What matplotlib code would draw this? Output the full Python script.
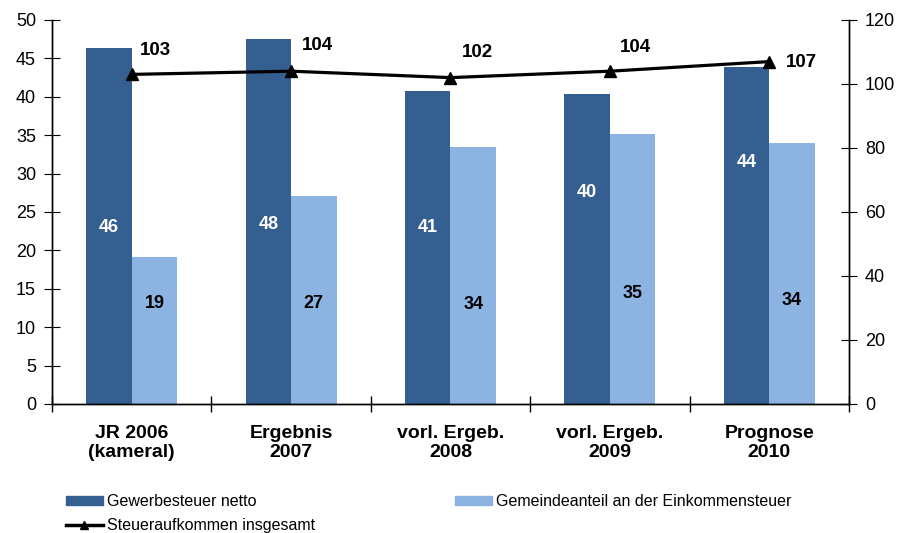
import numpy as np
import matplotlib.pyplot as plt
from matplotlib.lines import Line2D
from matplotlib.patches import Patch

plt.rcParams['font.family'] = ['Liberation Sans', 'DejaVu Sans']

kategorien = ['JR 2006\n(kameral)', 'Ergebnis\n2007', 'vorl. Ergeb.\n2008',
              'vorl. Ergeb.\n2009', 'Prognose\n2010']
gewerbe = [46.4, 47.5, 40.7, 40.3, 43.9]
gewerbe_lbl = ['46', '48', '41', '40', '44']
gemeinde = [19.2, 27.1, 33.5, 35.2, 34.0]
gemeinde_lbl = ['19', '27', '34', '35', '34']
gesamt = [103, 104, 102, 104, 107]

# where the labels sit inside the bars (left-axis units) and next to the line
pos_gewerbe = [23.0, 23.4, 23.0, 27.5, 31.4]
pos_gemeinde = [13.1, 13.1, 13.0, 14.4, 13.5]
versatz = [(24, 24), (26, 26), (27, 25), (26, 24), (32, -1)]

c_dunkel = '#365F91'
c_hell = '#8DB3E2'

fig = plt.figure(figsize=(9.03, 5.33), dpi=100)
ax = fig.add_axes([52/903, 1-404/533, (849-52)/903, (404-20)/533])
ax2 = ax.twinx()

x = np.arange(len(kategorien))
w = 0.285
ax.bar(x - w/2, gewerbe, w, color=c_dunkel, zorder=2)
ax.bar(x + w/2, gemeinde, w, color=c_hell, zorder=2)

for i in range(len(x)):
    ax.text(x[i] - w/2, pos_gewerbe[i], gewerbe_lbl[i], ha='center', va='center',
            color='white', fontsize=13, fontweight='bold')
    ax.text(x[i] + w/2, pos_gemeinde[i], gemeinde_lbl[i], ha='center', va='center',
            color='black', fontsize=13, fontweight='bold')

ax2.plot(x, gesamt, color='black', lw=2.3, marker='^', ms=8, zorder=3)
for i in range(len(x)):
    dx, dy = versatz[i]
    ax2.annotate(str(gesamt[i]), (x[i], gesamt[i]), xytext=(dx*0.72, dy*0.72),
                 textcoords='offset points', ha='center', va='center',
                 fontsize=13.5, fontweight='bold')

ax.set_xlim(-0.5, 4.5)
ax.set_ylim(0, 50)
ax.set_yticks(np.arange(0, 51, 5))
ax2.set_ylim(0, 120)
ax2.set_yticks(np.arange(0, 121, 20))

ax.set_xticks(np.arange(-0.5, 5, 1))
ax.set_xticklabels([])
ax.set_xticks(x, minor=True)
ax.set_xticklabels(kategorien, minor=True, fontsize=14, fontweight='bold')
ax.tick_params(axis='x', which='minor', length=0, pad=15)
ax.tick_params(axis='x', which='major', direction='inout', length=11, width=1)
ax.tick_params(axis='y', direction='inout', length=11, labelsize=13, pad=6)
ax2.tick_params(axis='y', direction='inout', length=11, labelsize=13, pad=6)

for a in (ax, ax2):
    a.spines['top'].set_visible(False)
    for s in ('left', 'right', 'bottom'):
        a.spines[s].set_linewidth(1)

leg_opts = dict(loc='upper left', frameon=False, fontsize=11.5, handlelength=2.3,
                handleheight=0.5, handletextpad=0.25, borderaxespad=0,
                borderpad=0, labelspacing=0.55)
fig.legend(handles=[Patch(color=c_dunkel),
                    Line2D([], [], color='black', lw=2.5, marker='^', ms=6)],
           labels=['Gewerbesteuer netto', 'Steueraufkommen insgesamt'],
           bbox_to_anchor=(66/903, 1-494/533), **leg_opts)
fig.legend(handles=[Patch(color=c_hell)],
           labels=['Gemeindeanteil an der Einkommensteuer'],
           bbox_to_anchor=(455/903, 1-494/533), **leg_opts)

fig.savefig('out.png', dpi=100)
